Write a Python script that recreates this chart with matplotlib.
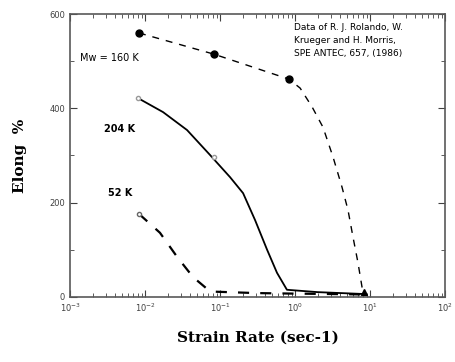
import matplotlib
matplotlib.use('Agg')
import matplotlib.pyplot as plt
from matplotlib.ticker import LogLocator, MultipleLocator, FixedLocator, NullFormatter

# Mw = 160 K (dashed, filled markers)
rate_160 = [0.0083, 0.083, 0.83, 1.17, 1.69, 2.36, 3.21, 4.23, 5.09, 5.93, 6.92, 7.82, 8.4]
elong_160 = [560, 515, 462, 443, 403, 360, 297, 233, 184, 127, 72, 21, 10]
pts_160_x = [0.0083, 0.083, 0.83]
pts_160_y = [560, 515, 462]

# Mw = 204 K (solid)
rate_204 = [0.0080, 0.0174, 0.0363, 0.0736, 0.136, 0.203, 0.293, 0.424, 0.575, 0.78, 2.0, 8.3]
elong_204 = [422, 392, 354, 301, 254, 220, 163, 100, 51, 15, 10, 6]

# Mw = 52 K (dashed)
rate_52 = [0.0083, 0.0158, 0.0267, 0.0436, 0.067, 0.083, 0.3, 0.83, 3.0, 8.3]
elong_52 = [176, 136, 85, 42, 17, 11, 8, 7, 6, 5]

fig = plt.figure(figsize=(4.55, 3.62), dpi=100)
ax = fig.add_axes([0.154, 0.180, 0.824, 0.781])

ax.plot(rate_160, elong_160, 'k--', lw=1.0, dashes=(5, 5))
ax.plot(pts_160_x, pts_160_y, 'ko', ms=5)
ax.plot([8.4], [10], 'k^', ms=5)
ax.plot(rate_204, elong_204, 'k-', lw=1.3)
ax.plot([0.0080, 0.083], [422, 297], 'o', mfc='white', mec='0.6', ms=3)
ax.plot(rate_52, elong_52, 'k--', lw=1.6, dashes=(5, 5))
ax.plot([0.0083], [176], 'o', mfc='white', mec='0.4', ms=3)

ax.set_xscale('log')
ax.set_xlim(1e-3, 1e2)
ax.set_ylim(0, 600)

ax.xaxis.set_major_locator(LogLocator(base=10, numticks=10))
ax.xaxis.set_minor_locator(LogLocator(base=10, subs=range(2, 10), numticks=20))
ax.xaxis.set_minor_formatter(NullFormatter())
ax.yaxis.set_major_locator(FixedLocator([0, 200, 400, 600]))
ax.yaxis.set_minor_locator(MultipleLocator(100))

ax.tick_params(which='both', direction='in', top=True, right=True, labelsize=6, colors='0.25')
ax.tick_params(which='major', length=5)
ax.tick_params(which='minor', length=3)
for s in ax.spines.values():
    s.set_color('0.35')
    s.set_linewidth(1.2)

ax.set_xlabel('Strain Rate (sec-1)', family='DejaVu Serif', fontweight='bold', fontsize=11, labelpad=12)
ax.set_ylabel('Elong  %', family='DejaVu Serif', fontweight='bold', fontsize=11, labelpad=16)

ax.text(0.027, 0.845, 'Mw = 160 K', transform=ax.transAxes, fontsize=7, va='center')
ax.text(0.09, 0.594, '204 K', transform=ax.transAxes, fontsize=7, fontweight='bold', va='center')
ax.text(0.10, 0.367, '52 K', transform=ax.transAxes, fontsize=7, fontweight='bold', va='center')
ax.text(0.597, 0.97, 'Data of R. J. Rolando, W.\nKrueger and H. Morris,\nSPE ANTEC, 657, (1986)',
        transform=ax.transAxes, fontsize=6.5, va='top', linespacing=1.6)

fig.savefig('out.png', dpi=100)
